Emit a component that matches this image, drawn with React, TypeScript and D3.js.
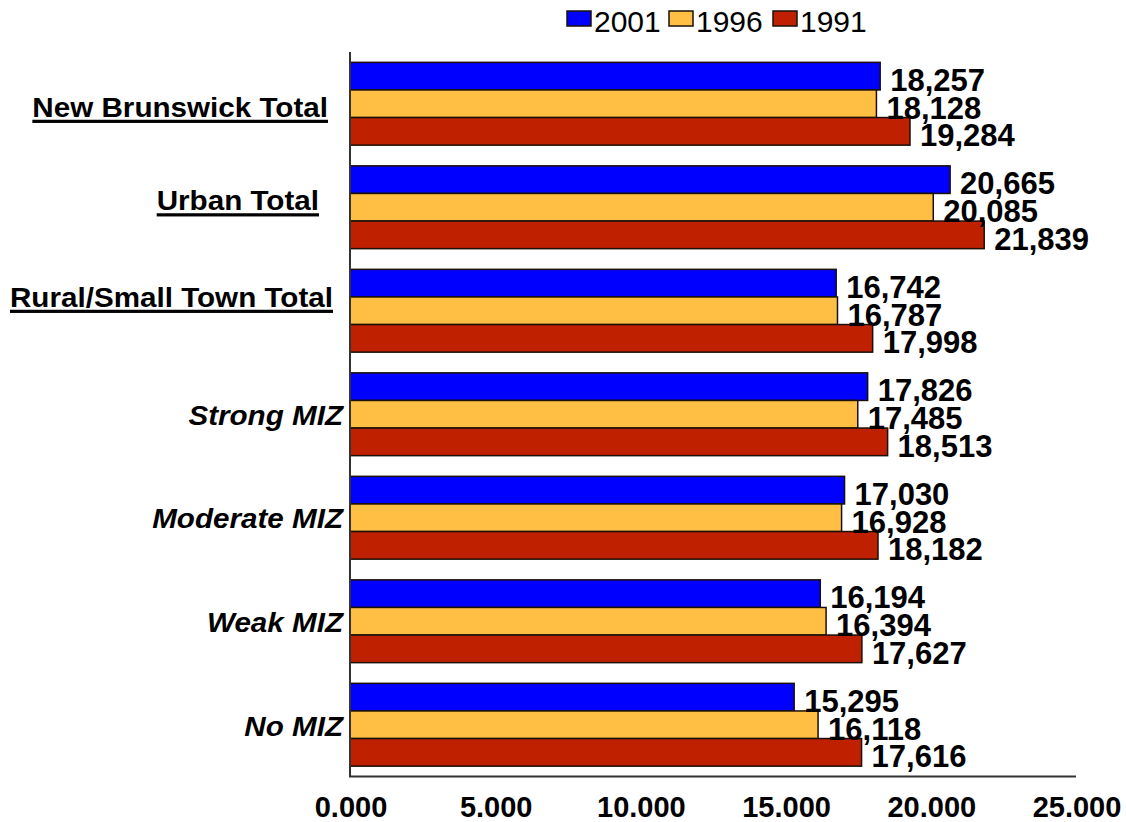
import React, { useEffect, useRef } from "react";
import * as d3 from "d3";

const categories = [
  "New Brunswick Total",
  "Urban Total",
  "Rural/Small Town Total",
  "Strong MIZ",
  "Moderate MIZ",
  "Weak MIZ",
  "No MIZ",
];
const seriesNames = ["2001", "1996", "1991"];
const values2001 = [18257, 20665, 16742, 17826, 17030, 16194, 15295];
const values1996 = [18128, 20085, 16787, 17485, 16928, 16394, 16118];
const values1991 = [19284, 21839, 17998, 18513, 18182, 17627, 17616];
const tickValues = [0, 5000, 10000, 15000, 20000, 25000];
const tickLabels = ["0.000", "5.000", "10.000", "15.000", "20.000", "25.000"];

// styling (not data)
const colors = ["#0000FF", "#FFBE44", "#BF2000"];
const labelStyle = [
  { underline: true, italic: false, right: 328, dy: 3 },
  { underline: true, italic: false, right: 319, dy: -7 },
  { underline: true, italic: false, right: 333, dy: -14 },
  { underline: false, italic: true, right: 343, dy: 1 },
  { underline: false, italic: true, right: 343, dy: 0 },
  { underline: false, italic: true, right: 343, dy: 1 },
  { underline: false, italic: true, right: 343, dy: 1 },
];

const W = 1126;
const H = 822;
const FONT = "'Liberation Sans', Arial, Helvetica, sans-serif";

export default function App() {
  const ref = useRef<SVGSVGElement | null>(null);

  useEffect(() => {
    const svg = d3.select(ref.current);
    svg.selectAll("*").remove();

    const left = 350, right = 1076, top = 52, bottom = 776.5;
    const x = d3.scaleLinear().domain([0, 25000]).range([left, right]);
    const y = d3
      .scaleBand<string>()
      .domain(categories)
      .range([top, bottom])
      .paddingInner(0.2)
      .paddingOuter(0.1);
    const ys = d3
      .scaleBand<string>()
      .domain(seriesNames)
      .range([0, y.bandwidth()]);

    const series = [values2001, values1996, values1991];
    const rows = categories.map((c, i) => ({
      cat: c,
      vals: series.map((s, k) => ({ name: seriesNames[k], v: s[i], k })),
    }));

    // bars
    const g = svg.append("g");
    const grp = g
      .selectAll("g.grp")
      .data(rows)
      .join("g")
      .attr("transform", (d) => `translate(0,${y(d.cat)})`);
    grp
      .selectAll("rect")
      .data((d) => d.vals)
      .join("rect")
      .attr("x", x(0))
      .attr("y", (d) => ys(d.name)!)
      .attr("width", (d) => x(d.v) - x(0))
      .attr("height", ys.bandwidth())
      .attr("fill", (d) => colors[d.k])
      .attr("stroke", "#1a1008")
      .attr("stroke-width", 1.5);

    // value labels
    const fmt = d3.format(",");
    grp
      .selectAll("text.val")
      .data((d) => d.vals)
      .join("text")
      .attr("class", "val")
      .attr("x", (d) => x(d.v) + 10)
      .attr("y", (d) => ys(d.name)! + ys.bandwidth() + 1)
      .attr("font-family", FONT)
      .attr("font-weight", "bold")
      .attr("font-size", 31)
      .attr("fill", "#000")
      .text((d) => fmt(d.v));

    // axes lines
    svg
      .append("line")
      .attr("x1", left)
      .attr("x2", left)
      .attr("y1", top)
      .attr("y2", bottom)
      .attr("stroke", "#333")
      .attr("stroke-width", 2);
    svg
      .append("line")
      .attr("x1", left - 1)
      .attr("x2", right)
      .attr("y1", bottom)
      .attr("y2", bottom)
      .attr("stroke", "#333")
      .attr("stroke-width", 2);

    // tick labels
    svg
      .selectAll("text.tick")
      .data(tickValues)
      .join("text")
      .attr("class", "tick")
      .attr("x", (d) => x(d) + 1)
      .attr("y", 817)
      .attr("text-anchor", "middle")
      .attr("font-family", FONT)
      .attr("font-weight", "bold")
      .attr("font-size", 29)
      .text((d, i) => tickLabels[i]);

    // category labels
    const sx = 1.058;
    categories.forEach((c, i) => {
      const st = labelStyle[i];
      const cy = y(c)! + y.bandwidth() / 2 + st.dy;
      const t = svg
        .append("text")
        .attr("transform", `translate(${st.right},${cy + 10}) scale(${sx},1)`)
        .attr("x", 0)
        .attr("y", 0)
        .attr("text-anchor", "end")
        .attr("font-family", FONT)
        .attr("font-weight", "bold")
        .attr("font-style", st.italic ? "italic" : "normal")
        .attr("font-size", 28)
        .text(c);
      if (st.underline) {
        const bb = (t.node() as SVGTextElement).getBBox();
        svg
          .append("rect")
          .attr("x", st.right + bb.x * sx)
          .attr("y", cy + 13)
          .attr("width", bb.width * sx)
          .attr("height", 3.2)
          .attr("fill", "#000");
      }
    });

    // legend
    const lg = svg.append("g");
    const legendX = [567, 669, 773];
    seriesNames.forEach((n, k) => {
      lg.append("rect")
        .attr("x", legendX[k])
        .attr("y", 11)
        .attr("width", 24)
        .attr("height", 15)
        .attr("fill", colors[k])
        .attr("stroke", "#1a1008")
        .attr("stroke-width", 1.5);
      lg.append("text")
        .attr("x", legendX[k] + 27)
        .attr("y", 32)
        .attr("font-family", FONT)
        .attr("font-size", 30)
        .attr("fill", "#000")
        .text(n);
    });
  }, []);

  return (
    <svg
      ref={ref}
      width={W}
      height={H}
      style={{ position: "absolute", left: 0, top: 0, background: "#fff" }}
    />
  );
}
